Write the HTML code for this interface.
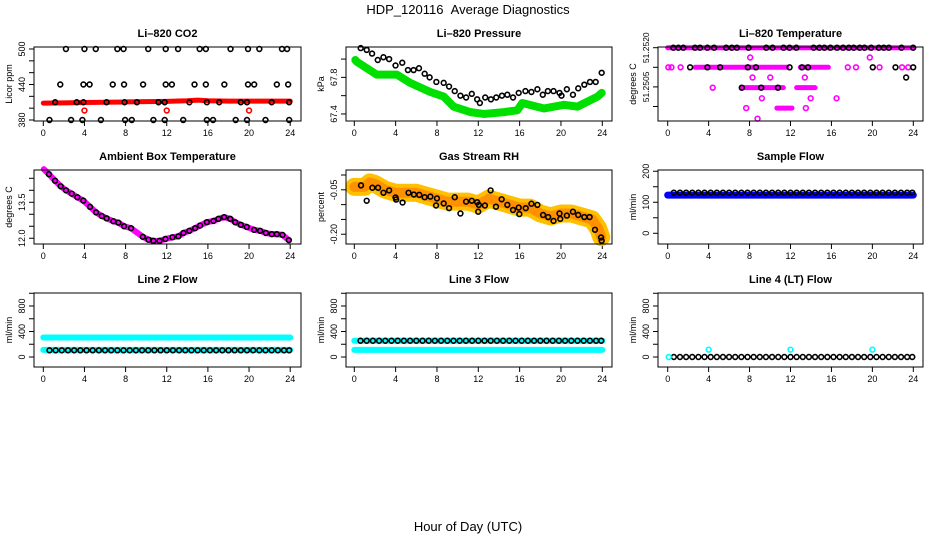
<!DOCTYPE html>
<html><head><meta charset="utf-8">
<style>
html,body{margin:0;padding:0;background:#fff;}
svg{display:block;font-family:"Liberation Sans",sans-serif;}
</style></head>
<body>
<svg id="chart" width="936" height="540" viewBox="0 0 936 540" xmlns="http://www.w3.org/2000/svg">
<rect width="936" height="540" fill="#fff"/>
<text x="468" y="14" text-anchor="middle" font-size="13">HDP_120116&#160;&#160;Average Diagnostics</text>
<text x="468" y="531" text-anchor="middle" font-size="13">Hour of Day (UTC)</text>
<g id="panels"></g>
</svg>
<script>
// ---------- data ----------
var xTickVals = [0,4,8,12,16,20,24];

// CO2
var co2BandHours = [0,2,4,6,8,10,12,14,15,16,18,20,22,24];
var co2BandVals = [408.5,409,409.5,410,410.5,411,411.5,412.5,413.5,412.5,412,412,412,412];
var co2BlackHours = [2.2,4.0,5.1,7.2,7.8,10.2,11.9,13.1,15.2,15.8,18.2,19.9,21.0,23.2,23.7,
 1.65,3.9,4.5,6.75,7.85,9.7,11.9,12.5,14.7,15.8,17.6,19.9,20.5,22.7,23.8,
 1.15,3.25,3.9,6.15,7.9,9.1,11.2,11.8,14.2,15.9,17.1,19.2,19.8,22.2,23.9,
 0.6,2.7,3.8,5.6,7.95,8.6,10.7,11.8,13.6,15.9,16.5,18.7,19.8,21.6,23.9];
var co2BlackVals = [500,500,500,500,500,500,500,500,500,500,500,500,500,500,500,
 440,440,440,440,440,440,440,440,440,440,440,440,440,440,440,
 410,410,410,410,410,410,410,410,410,410,410,410,410,410,410,
 380,380,380,380,380,380,380,380,380,380,380,380,380,380,380];
var co2RedHours = [4.0,12.0,20.0];
var co2RedVals = [396,396,396];

// Pressure
var presBandHours = [0.1,0.25,2.17,4.12,5.41,7.36,8.65,9.62,11.24,12.54,14.48,15.78,16.26,18.37,20.3,21.6,23.55,23.94];
var presBandVals = [67.99,67.97,67.83,67.83,67.74,67.64,67.59,67.48,67.42,67.40,67.42,67.44,67.52,67.46,67.50,67.48,67.59,67.63];
var presBlackHours = [0.62,1.2,1.72,2.27,2.82,3.37,3.99,4.64,5.19,5.74,6.26,6.81,7.29,7.94,8.65,9.17,9.72,10.27,10.82,11.37,11.89,12.15,12.67,13.22,13.74,14.29,14.81,15.36,15.91,16.56,17.14,17.72,18.24,18.73,19.28,19.86,20.05,20.57,21.16,21.67,22.26,22.81,23.36,23.94];
var presBlackVals = [68.12,68.10,68.06,67.99,68.02,68.00,67.93,67.96,67.88,67.88,67.90,67.84,67.80,67.75,67.74,67.70,67.65,67.60,67.58,67.62,67.56,67.52,67.58,67.56,67.58,67.60,67.61,67.58,67.63,67.65,67.64,67.67,67.61,67.65,67.65,67.63,67.60,67.67,67.61,67.68,67.72,67.75,67.75,67.85];

// Li-820 temperature
var tempBandStart = [0, 2.67, 12.96, 7.2, 12.6, 10.67];
var tempBandEnd = [24, 11.65, 15.7, 11.3, 14.4, 12.14];
var tempBandVals = [51.2520, 51.2515, 51.2515, 51.25098, 51.25098, 51.25046];
var tempMagHours = [0.06,0.37,1.26,17.6,18.4,20.7,22.9,23.5,8.06,19.75,8.29,10.02,13.4,4.4,9.2,13.97,16.5,7.67,13.5,8.78];
var tempMagVals = [51.2515,51.2515,51.2515,51.2515,51.2515,51.2515,51.2515,51.2515,51.25175,51.25175,51.25124,51.25124,51.25124,51.25098,51.25071,51.25071,51.25071,51.25046,51.25046,51.25019];
var tempBlackHours = [0.55,1.04,1.53,2.67,3.16,3.88,4.53,5.71,6.27,6.76,7.9,9.63,10.25,11.32,11.91,12.57,14.26,14.82,15.31,15.9,16.55,17.14,17.7,18.18,18.77,19.23,19.88,20.63,21.12,21.61,22.85,23.99,
 2.19,3.88,5.12,7.83,8.62,11.91,13.12,13.71,20.04,22.26,23.99, 7.24,9.14,10.77, 23.3];
var tempBlackVals = [51.2520,51.2520,51.2520,51.2520,51.2520,51.2520,51.2520,51.2520,51.2520,51.2520,51.2520,51.2520,51.2520,51.2520,51.2520,51.2520,51.2520,51.2520,51.2520,51.2520,51.2520,51.2520,51.2520,51.2520,51.2520,51.2520,51.2520,51.2520,51.2520,51.2520,51.2520,51.2520,
 51.2515,51.2515,51.2515,51.2515,51.2515,51.2515,51.2515,51.2515,51.2515,51.2515,51.2515, 51.25098,51.25098,51.25098, 51.25124];

// Ambient box temperature
var ambHours = [0.05,0.55,1.14,1.69,2.2,2.76,3.31,3.89,4.54,5.13,5.68,6.16,6.81,7.3,7.85,8.53,9.67,10.22,10.7,11.29,11.87,12.55,13.13,13.62,14.2,14.76,15.24,15.9,16.54,17.03,17.58,18.17,18.65,19.2,19.78,20.49,21.08,21.63,22.21,22.7,23.25,23.87];
var ambVals = [14.88,14.67,14.40,14.17,14.0,13.86,13.71,13.57,13.31,13.08,12.93,12.83,12.71,12.65,12.5,12.42,12.06,11.94,11.89,11.89,11.97,12.04,12.08,12.22,12.31,12.42,12.53,12.67,12.72,12.81,12.88,12.81,12.67,12.56,12.47,12.35,12.31,12.22,12.17,12.17,12.14,11.92];

// Gas stream RH
var rhBandHours = [0,1,1.5,2,3,4,5,6,7,8,9,10,11,12,13,14,15,16,17,18,19,20,21,22,23,23.6,23.9];
var rhBandVals = [-0.04,-0.04,-0.025,-0.03,-0.05,-0.06,-0.06,-0.06,-0.07,-0.08,-0.09,-0.09,-0.09,-0.10,-0.08,-0.09,-0.10,-0.11,-0.11,-0.13,-0.14,-0.13,-0.13,-0.14,-0.15,-0.18,-0.21];
var rhBlackHours = [0.65,1.2,1.75,2.3,2.82,3.37,3.99,4.05,4.67,5.25,5.77,6.29,6.81,7.36,7.91,8.0,8.65,9.17,9.72,10.27,10.82,11.37,11.89,11.99,12.05,12.64,13.19,13.71,14.26,14.81,15.36,15.91,15.97,16.59,17.14,17.72,18.27,18.76,19.28,19.86,19.93,20.57,21.16,21.67,22.26,22.77,23.29,23.88,23.94];
var rhBlackVals = [-0.035,-0.087,-0.043,-0.043,-0.060,-0.052,-0.076,-0.083,-0.093,-0.060,-0.066,-0.067,-0.075,-0.073,-0.103,-0.079,-0.096,-0.112,-0.075,-0.130,-0.090,-0.087,-0.092,-0.124,-0.101,-0.103,-0.052,-0.107,-0.082,-0.101,-0.118,-0.110,-0.132,-0.112,-0.097,-0.101,-0.135,-0.142,-0.155,-0.130,-0.148,-0.137,-0.124,-0.135,-0.142,-0.142,-0.185,-0.211,-0.222];

// Flows (shared sample hours)
var flowHours = [0.6,1.2,1.8,2.4,3.0,3.6,4.2,4.8,5.4,6.0,6.6,7.2,7.8,8.4,9.0,9.6,10.2,10.8,11.4,12.0,12.6,13.2,13.8,14.4,15.0,15.6,16.2,16.8,17.4,18.0,18.6,19.2,19.8,20.4,21.0,21.6,22.2,22.8,23.4,23.9];
var sampleFlowVals = [131,131,131,131,131,131,131,131,131,131,131,131,131,131,131,131,131,131,131,131,131,131,131,131,131,131,131,131,131,131,131,131,131,131,131,131,131,131,131,131];
var line2FlowVals = [105,105,105,105,105,105,105,105,105,105,105,105,105,105,105,105,105,105,105,105,105,105,105,105,105,105,105,105,105,105,105,105,105,105,105,105,105,105,105,105];
var line3FlowVals = [255,255,255,255,255,255,255,255,255,255,255,255,255,255,255,255,255,255,255,255,255,255,255,255,255,255,255,255,255,255,255,255,255,255,255,255,255,255,255,255];
var line4FlowVals = [0,0,0,0,0,0,0,0,0,0,0,0,0,0,0,0,0,0,0,0,0,0,0,0,0,0,0,0,0,0,0,0,0,0,0,0,0,0,0,0];
var sampleBandHours = [0,24];
var sampleBandVals = [123,123];
var line2BandHours = [0,24];
var line2UpperVals = [305,305];
var line2LowerVals = [112,112];
var line3BandHours = [0,24];
var line3UpperVals = [255,255];
var line3LowerVals = [112,112];
var line4CyanHours = [0.1,4.0,12.0,20.0];
var line4CyanVals = [0,115,115,115];

// ---------- drawing ----------
var NS = "http://www.w3.org/2000/svg";
var root = document.getElementById('panels');
function mk(tag, attrs, parent){
  var e = document.createElementNS(NS, tag);
  for (var k in attrs) e.setAttribute(k, attrs[k]);
  (parent||root).appendChild(e);
  return e;
}
var cols = [{x0:34,x1:301,h0:43.3,h24:290.2},{x0:346,x1:612,h0:354.3,h24:602.3},{x0:658,x1:923,h0:667.7,h24:913.3}];
var rows = [{y0:47,y1:121},{y0:170,y1:244},{y0:293,y1:367}];

function makePanel(name, title, ci, ri, vTop, vBot, yTicks, yLabels, yTitle, labelFont){
  var c = cols[ci], r = rows[ri];
  var g = mk('g', {});
  
  
  var P = {g:g,
    x:function(h){return c.h0 + (c.h24-c.h0)*h/24;},
    y:function(v){return r.y0 + (vTop - v)/(vTop - vBot)*(r.y1 - r.y0);}};
  var t = mk('text', {x:(c.x0+c.x1)/2, y:r.y0-10, 'text-anchor':'middle','font-size':'11','font-weight':'bold'}, g);
  
  
  t.textContent = title;
  var xa = mk('g', {}, g);
  
  
  mk('line', {x1:P.x(0), x2:P.x(24), y1:r.y1, y2:r.y1, stroke:'#000','stroke-width':1}, xa);
  xTickVals.forEach(function(v){
    mk('line', {x1:P.x(v), x2:P.x(v), y1:r.y1, y2:r.y1+5, stroke:'#000','stroke-width':1}, xa);
    var lt = mk('text', {x:P.x(v), y:r.y1+15, 'text-anchor':'middle','font-size':'9'}, xa);
    
    
    lt.textContent = v;
  });
  var ya = mk('g', {}, g);
  
  
  var lf = labelFont || 9;
  yTicks.forEach(function(v, i){
    var yy = P.y(v);
    mk('line', {x1:c.x0-5, x2:c.x0, y1:yy, y2:yy, stroke:'#000','stroke-width':1}, ya);
    if (yLabels[i] !== '') {
      var lt = mk('text', {x:c.x0-9, y:yy, 'text-anchor':'middle','font-size':lf, transform:'rotate(-90 '+(c.x0-9)+' '+yy+')'}, ya);
      
      
      lt.textContent = yLabels[i];
    }
  });
  var yt = mk('text', {x:c.x0-22, y:(r.y0+r.y1)/2, 'text-anchor':'middle','font-size':'9', transform:'rotate(-90 '+(c.x0-22)+' '+((r.y0+r.y1)/2)+')'}, ya);
  
  
  yt.textContent = yTitle;
  P.plot = mk('g', {}, g);
  P.box = function(){
    var b = mk('rect', {x:c.x0, y:r.y0, width:c.x1-c.x0, height:r.y1-r.y0, fill:'none', stroke:'#000','stroke-width':1}, g);
    
    
  };
  return P;
}
function band(P, hours, vals, color, w, nm){
  var pts = hours.map(function(h,i){return P.x(h)+','+P.y(vals[i]);}).join(' ');
  var pl = mk('polyline', {points:pts, fill:'none', stroke:color, 'stroke-width':w, 'stroke-linejoin':'round','stroke-linecap':'round'}, P.plot);
  
  
}
function pts(P, hours, vals, color, r, nm){
  var gg = mk('g', {}, P.plot);
  
  
  hours.forEach(function(h,i){
    var c = mk('circle', {cx:P.x(h), cy:P.y(vals[i]), r:r, fill:'none', stroke:color,'stroke-width':1.6}, gg);
    
    
  });
}

var p = makePanel('co2-panel','Li\u2013820 CO2',0,0,503.4,378.3,[380,400,420,440,460,480,500],['380','','','440','','','500'],'Licor ppm');
band(p, co2BandHours, co2BandVals, '#ff0000', 5, 'co2-red-series');
pts(p, co2BlackHours, co2BlackVals, '#000', 2.4, 'co2-black-series');
pts(p, co2RedHours, co2RedVals, '#ff0000', 2.4, 'co2-red-outliers');
p.box();

p = makePanel('pressure-panel','Li\u2013820 Pressure',1,0,68.132,67.323,[67.4,67.6,67.8,68.0],['67.4','','67.8',''],'kPa');
band(p, presBandHours, presBandVals, '#00e000', 8, 'pressure-green-series');
pts(p, presBlackHours, presBlackVals, '#000', 2.4, 'pressure-black-series');
p.box();

p = makePanel('li820-temperature-panel','Li\u2013820 Temperature',2,0,51.252018,51.25013,[51.2520,51.2515,51.2510,51.2505],['51.2520','','51.2505',''],'degrees C', 8.5);
tempBandStart.forEach(function(s,i){
  band(p, [s, tempBandEnd[i]], [tempBandVals[i], tempBandVals[i]], '#ff00ff', 5, 'temperature-magenta-band');
});
pts(p, tempMagHours, tempMagVals, '#ff00ff', 2.4, 'temperature-magenta-points');
pts(p, tempBlackHours, tempBlackVals, '#000', 2.4, 'temperature-black-points');
p.box();

p = makePanel('ambient-temperature-panel','Ambient Box Temperature',0,1,14.846,11.76,[12.0,12.5,13.0,13.5,14.0,14.5],['12.0','','','13.5','',''],'degrees C');
band(p, ambHours, ambVals, '#ff00ff', 6, 'ambient-magenta-series');
pts(p, ambHours.slice(1), ambVals.slice(1), '#000', 2.4, 'ambient-black-series');
p.box();

p = makePanel('gas-rh-panel','Gas Stream RH',1,1,0.0169,-0.233,[0,-0.05,-0.10,-0.15,-0.20],['','-0.05','','','-0.20'],'percent');
band(p, rhBandHours, rhBandVals, '#ffc000', 18, 'rh-yellow-band');
band(p, rhBandHours, rhBandVals, '#ff9000', 10, 'rh-orange-band');
pts(p, rhBlackHours, rhBlackVals, '#000', 2.4, 'rh-black-series');
p.box();

p = makePanel('sample-flow-panel','Sample Flow',2,1,204,-34.5,[0,50,100,150,200],['0','','100','','200'],'ml/min');
band(p, sampleBandHours, sampleBandVals, '#0000ff', 7, 'sample-flow-blue-series');
pts(p, flowHours, sampleFlowVals, '#000', 2.4, 'sample-flow-black-series');
p.box();

var flowTicks = [0,200,400,600,800,1000];
var flowLabels = ['0','','400','','800',''];
p = makePanel('line2-flow-panel','Line 2 Flow',0,2,1004,-157,flowTicks,flowLabels,'ml/min');
band(p, line2BandHours, line2UpperVals, '#00ffff', 6, 'line2-cyan-upper');
band(p, line2BandHours, line2LowerVals, '#00ffff', 6, 'line2-cyan-lower');
pts(p, flowHours, line2FlowVals, '#000', 2.4, 'line2-black-series');
p.box();

p = makePanel('line3-flow-panel','Line 3 Flow',1,2,1004,-157,flowTicks,flowLabels,'ml/min');
band(p, line3BandHours, line3UpperVals, '#00ffff', 6, 'line3-cyan-upper');
band(p, line3BandHours, line3LowerVals, '#00ffff', 6, 'line3-cyan-lower');
pts(p, flowHours, line3FlowVals, '#000', 2.4, 'line3-black-series');
p.box();

p = makePanel('line4-flow-panel','Line 4 (LT) Flow',2,2,1004,-157,flowTicks,flowLabels,'ml/min');
pts(p, flowHours, line4FlowVals, '#000', 2.4, 'line4-black-series');
pts(p, line4CyanHours, line4CyanVals, '#00ffff', 2.4, 'line4-cyan-points');
p.box();
</script>
</body></html>
